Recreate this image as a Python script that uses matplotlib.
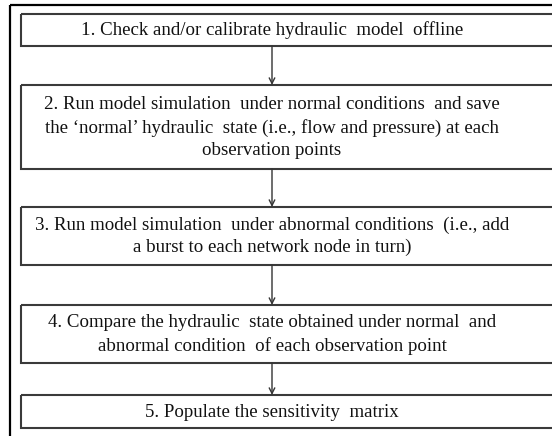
import matplotlib
matplotlib.use("Agg")
import matplotlib.pyplot as plt
import matplotlib.patches as patches

# flowchart steps (text per box)
steps = [
    "1. Check and/or calibrate hydraulic  model  offline",
    "2. Run model simulation  under normal conditions  and save\n"
    "the \u2018normal\u2019 hydraulic  state (i.e., flow and pressure) at each\n"
    "observation points",
    "3. Run model simulation  under abnormal conditions  (i.e., add\n"
    "a burst to each network node in turn)",
    "4. Compare the hydraulic  state obtained under normal  and\n"
    "abnormal condition  of each observation point",
    "5. Populate the sensitivity  matrix",
]

# box extents in pixel space (top, bottom)
box_top = [14, 85, 207, 305, 395]
box_bot = [46, 169, 265, 363, 428]

W, H = 552, 436
fig = plt.figure(figsize=(W / 100, H / 100), dpi=100)
ax = fig.add_axes([0, 0, 1, 1])
ax.set_xlim(0, W)
ax.set_ylim(H, 0)
ax.axis('off')

# outer frame (runs off the right and bottom edges)
frame = patches.Rectangle((10, 5), 600, 500, fill=False, edgecolor='black', linewidth=1.6)
ax.add_patch(frame)

left, right = 21, 580
cx = 272
for i, txt in enumerate(steps):
    t, b = box_top[i], box_bot[i]
    box = patches.Rectangle((left, t), right - left, b - t, fill=False,
                            edgecolor='#3a3a3a', linewidth=1.5)
    ax.add_patch(box)
    ax.text(cx, (t + b) / 2 + 0.5, txt, ha='center', va='center', fontsize=13.6,
            family='Liberation Serif', color='#111111', linespacing=1.4)
    if i < len(steps) - 1:
        ax.annotate('', xy=(cx, box_top[i + 1]), xytext=(cx, b),
                    arrowprops=dict(arrowstyle='->', color='#333333', lw=1.0,
                                    shrinkA=0, shrinkB=0, mutation_scale=10))

fig.savefig("out.png", dpi=100)
